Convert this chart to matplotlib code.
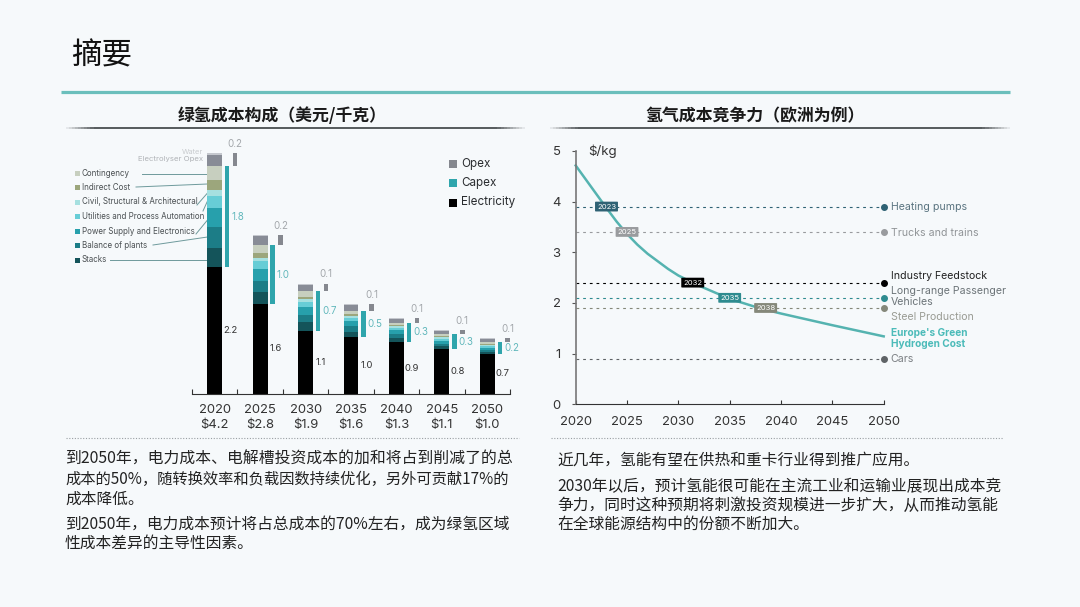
#!/usr/bin/env python3
"""Green hydrogen cost summary slide: cost stack (left), competitiveness curve (right)."""

import matplotlib
matplotlib.use("Agg")
import matplotlib.pyplot as plt
from matplotlib.patches import Rectangle
import numpy as np

plt.rcParams["text.parse_math"] = False

W, H = 1080, 607
BG = "#F6F9FB"
CJK = ["Noto Sans CJK SC", "DejaVu Sans"]
LATIN = "Inter"

# left chart
years = ["2020", "2025", "2030", "2035", "2040", "2045", "2050"]
totals = ["$4.2", "$2.8", "$1.9", "$1.6", "$1.3", "$1.1", "$1.0"]
electricity = [2.2, 1.56, 1.1, 0.98, 0.9, 0.78, 0.7]
stacks = [0.33, 0.20, 0.14, 0.10, 0.07, 0.045, 0.03]
balance = [0.36, 0.20, 0.13, 0.09, 0.065, 0.045, 0.03]
power = [0.34, 0.21, 0.13, 0.09, 0.07, 0.05, 0.04]
utilities = [0.21, 0.14, 0.09, 0.05, 0.035, 0.03, 0.025]
civil = [0.10, 0.05, 0.06, 0.045, 0.035, 0.03, 0.025]
indirect = [0.17, 0.09, 0.035, 0.03, 0.02, 0.02, 0.02]
contingency = [0.24, 0.13, 0.10, 0.06, 0.04, 0.035, 0.025]
electrolyser_opex = [0.19, 0.15, 0.11, 0.09, 0.07, 0.06, 0.06]
water = [0.04, 0.03, 0.02, 0.02, 0.02, 0.02, 0.015]
electricity_labels = ["2.2", "1.6", "1.1", "1.0", "0.9", "0.8", "0.7"]
capex_labels = ["1.8", "1.0", "0.7", "0.5", "0.3", "0.3", "0.2"]
opex_labels = ["0.2", "0.2", "0.1", "0.1", "0.1", "0.1", "0.1"]
cost_items = ["Contingency", "Indirect Cost", "Civil, Structural & Architectural",
              "Utilities and Process Automation", "Power Supply and Electronics",
              "Balance of plants", "Stacks"]
item_colors = ["#C7CFBF", "#9CA67C", "#A6E0E0", "#67CDD6", "#27A0AC", "#1C7D87", "#14545A"]

# right chart
curve_years = [2020, 2021, 2022, 2023, 2024, 2025, 2026, 2027, 2028, 2029, 2030,
               2032, 2035, 2038, 2040, 2045, 2050]
curve_cost = [4.71, 4.43, 4.15, 3.87, 3.60, 3.36, 3.15, 2.97, 2.82, 2.67, 2.54,
              2.34, 2.08, 1.89, 1.79, 1.56, 1.34]
sector_cost = [3.9, 3.4, 2.4, 2.1, 1.9, 0.9]
sector_colors = ["#2F6274", "#999B9E", "#000000", "#2E8B8F", "#85887A", "#5F6366"]
tag_years = ["2023", "2025", "2032", "2035", "2038"]
tag_x = [2023, 2025, 2031.4, 2035, 2038.5]
tag_y = [3.9, 3.4, 2.4, 2.1, 1.9]
tag_colors = ["#2F6274", "#999B9E", "#000000", "#2E8B8F", "#85887A"]

fig = plt.figure(figsize=(W / 100, H / 100), dpi=100, facecolor=BG)

# pixel-space layer for the slide furniture
bg = fig.add_axes([0, 0, 1, 1])
bg.set_xlim(0, W)
bg.set_ylim(H, 0)
bg.axis("off")


def fade_rule(x0, x1, y):
    # dark rule that fades out over the last 30 px at each end
    xs = np.linspace(x0, x1, 151)
    for a, b in zip(xs[:-1], xs[1:]):
        t = min(a - x0, x1 - b) / 30
        bg.plot([a, b], [y, y], color="#3A3F42", lw=1.2, alpha=min(1, 0.1 + t),
                solid_capstyle="butt")


bg.text(71, 56, "摘要", family=CJK, fontsize=22, color="#111111", va="center")
bg.plot([61, 1010], [92, 92], color="#6BBFBC", lw=2.3, solid_capstyle="butt")
bg.text(282.5, 116, "绿氢成本构成（美元/千克）", family=CJK, fontsize=12.2, weight="bold",
        color="#1A1A1A", ha="center", va="center")
bg.text(755, 116, "氢气成本竞争力（欧洲为例）", family=CJK, fontsize=12.2, weight="bold",
        color="#1A1A1A", ha="center", va="center")
fade_rule(66, 525, 128)
fade_rule(550, 1010, 128)
bg.plot([66, 519], [438, 438], color="#9A9FA3", lw=0.8, ls=(0, (1, 1.5)))
bg.plot([551, 1003], [438, 438], color="#9A9FA3", lw=0.8, ls=(0, (1, 1.5)))

left_lines = [(459.5, 11.4, "到2050年，电力成本、电解槽投资成本的加和将占到削减了的总"),
              (479.5, 11.03, "成本的50%，随转换效率和负载因数持续优化，另外可贡献17%的"),
              (499.5, 11.3, "成本降低。"),
              (524, 11.3, "到2050年，电力成本预计将占总成本的70%左右，成为绿氢区域"),
              (543, 11.3, "性成本差异的主导性因素。")]
right_lines = [(460.5, 11.3, "近几年，氢能有望在供热和重卡行业得到推广应用。"),
               (486.5, 11.3, "2030年以后，预计氢能很可能在主流工业和运输业展现出成本竞"),
               (505.5, 11.3, "争力，同时这种预期将刺激投资规模进一步扩大，从而推动氢能"),
               (524.5, 11.3, "在全球能源结构中的份额不断加大。")]
for y, size, line in left_lines:
    bg.text(65, y, line, family=CJK, fontsize=size, color="#222222", va="center")
for y, size, line in right_lines:
    bg.text(557, y, line, family=CJK, fontsize=size, color="#222222", va="center")

# Left: cost stack, 45.4 px per category and 57.7 px per $/kg
ax = fig.add_axes([192 / W, 1 - 394 / H, 318 / W, 254 / H], facecolor="none")
pos = np.arange(len(years))
layers = [(electricity, "#000000"), (stacks, "#14545A"), (balance, "#1C7D87"),
          (power, "#27A0AC"), (utilities, "#67CDD6"), (civil, "#A6E0E0"),
          (indirect, "#9CA67C"), (contingency, "#C7CFBF"),
          (electrolyser_opex, "#888C96"), (water, "#C5C8CE")]
bottom = np.zeros(len(years))
for values, color in layers:
    ax.bar(pos, values, 0.33, bottom=bottom, color=color)
    bottom += np.array(values)

capex_total = np.sum([stacks, balance, power, utilities, civil, indirect, contingency], axis=0)
opex_total = np.array(electrolyser_opex) + np.array(water)
elec = np.array(electricity)
ax.bar(pos + 0.275, capex_total, 0.1, bottom=elec, color="#2FA5AC")
ax.bar(pos + 0.45, opex_total, 0.1, bottom=elec + capex_total, color="#85888F")

for i in pos:
    ax.text(i + 0.34, elec[i] / 2, electricity_labels[i], fontsize=6.8, family=LATIN,
            color="#333333", ha="center", va="center")
    ax.text(i + 0.37, elec[i] + capex_total[i] / 2, capex_labels[i], fontsize=7, family=LATIN,
            color="#62B8BC", ha="left", va="center")
    ax.text(i + 0.45, elec[i] + capex_total[i] + opex_total[i] + 0.07, opex_labels[i], fontsize=7,
            family=LATIN, color="#A3A7AB", ha="center", va="bottom")

ax.set_xlim(-0.5, 6.5)
ax.set_ylim(0, 254 / 57.7)
ax.set_yticks([])
ax.set_xticks(np.arange(-0.5, 7, 1))
ax.set_xticklabels([])
ax.tick_params(axis="x", direction="in", length=3.5, width=0.8, color="#333333")
for s in ["top", "left", "right"]:
    ax.spines[s].set_visible(False)
ax.spines["bottom"].set_color("#333333")
ax.spines["bottom"].set_linewidth(0.8)
for i in pos:
    x_px = 192 + (i + 0.5) * 318 / 7
    bg.text(x_px, 410, years[i], family=LATIN, fontsize=9.4, color="#333333", ha="center", va="center")
    bg.text(x_px, 425, totals[i], family=LATIN, fontsize=9.4, color="#333333", ha="center", va="center")

# legend and leaders are placed by hand in the source slide
item_y = [173.3, 187.3, 202, 216.7, 231.3, 245.7, 260]
leaders = [((142, 173.7), (207.5, 173.7)), ((136, 187), (207.5, 184)), ((197, 205), (207.5, 193)),
           ((203, 211), (207.5, 201)), ((196, 234), (207.5, 220)), ((153, 245), (207.5, 237)),
           ((110, 260), (207.5, 260))]
for name, color, y, (p0, p1) in zip(cost_items, item_colors, item_y, leaders):
    bg.add_patch(Rectangle((75, y - 2.5), 5, 5, color=color, lw=0))
    bg.text(82, y, name, family=LATIN, fontsize=5.75, color="#4A4F52", va="center")
    bg.plot([p0[0], p1[0]], [p0[1], p1[1]], color="#6E9A9C", lw=0.7)
bg.text(203, 152, "Water", family=LATIN, fontsize=5.4, color="#C9CCCF", ha="right", va="center")
bg.text(203, 159, "Electrolyser Opex", family=LATIN, fontsize=5.6, color="#B0B3B7", ha="right", va="center")

for name, color, y in zip(["Opex", "Capex", "Electricity"], ["#85888F", "#2FA5AC", "#000000"],
                          [164, 183, 202.5]):
    bg.add_patch(Rectangle((449, y - 4), 8, 8, color=color, lw=0))
    bg.text(461, y, name, family=LATIN, fontsize=8.4, color="#2A2D30", va="center")

# Right: competitiveness curve
ax2 = fig.add_axes([575.7 / W, 1 - 404.3 / H, 308 / W, 253.5 / H], facecolor="none")
ax2.set_xlim(2020, 2050)
ax2.set_ylim(0, 5)
for cost, color in zip(sector_cost, sector_colors):
    ax2.plot([2020, 2050], [cost, cost], color=color, lw=0.8, ls=(0, (2.5, 3.5)), zorder=1)
    ax2.plot([2050], [cost], "o", color=color, ms=4, clip_on=False, zorder=3)
ax2.plot(curve_years, curve_cost, color="#55B3B0", lw=1.8, zorder=2, clip_on=False)
for label, x, y, color in zip(tag_years, tag_x, tag_y, tag_colors):
    ax2.text(x, y, label, fontsize=5.5, family=LATIN, color="#FFFFFF", ha="center", va="center", zorder=4,
             bbox=dict(boxstyle="round,pad=0.25,rounding_size=0.1", fc=color, ec="none"))
ax2.set_xticks(range(2020, 2051, 5))
ax2.set_yticks(range(0, 6))
ax2.tick_params(axis="x", direction="in", length=3, width=0.8, color="#333333",
                labelsize=9.4, labelcolor="#333333", pad=8.5)
ax2.tick_params(axis="y", direction="out", length=3, width=0.8, color="#555555",
                labelsize=9.4, labelcolor="#333333", pad=8)
for lab in ax2.get_xticklabels() + ax2.get_yticklabels():
    lab.set_family(LATIN)
for s in ["top", "right"]:
    ax2.spines[s].set_visible(False)
ax2.spines["left"].set_color("#777777")
ax2.spines["left"].set_linewidth(1.2)
ax2.spines["bottom"].set_color("#333333")
ax2.spines["bottom"].set_linewidth(0.8)
bg.text(588, 151, "$/kg", family=LATIN, fontsize=9.6, color="#333333", va="center")

sector_labels = [(207, "Heating pumps", "#5A7480"), (233, "Trucks and trains", "#909497"),
                 (276.3, "Industry Feedstock", "#222222"), (290.7, "Long-range Passenger", "#6C7478"),
                 (302.3, "Vehicles", "#6C7478"), (316.7, "Steel Production", "#9A9C94"),
                 (358.7, "Cars", "#7A7E82")]
for y, name, color in sector_labels:
    bg.text(890.7, y, name, family=LATIN, fontsize=7.6, color=color, va="center")
bg.text(890.7, 333.3, "Europe's Green", family=LATIN, fontsize=7.3, weight="bold", color="#4CBBB9", va="center")
bg.text(890.7, 343.7, "Hydrogen Cost", family=LATIN, fontsize=7.3, weight="bold", color="#4CBBB9", va="center")

fig.savefig("out.png", dpi=100, facecolor=BG)
